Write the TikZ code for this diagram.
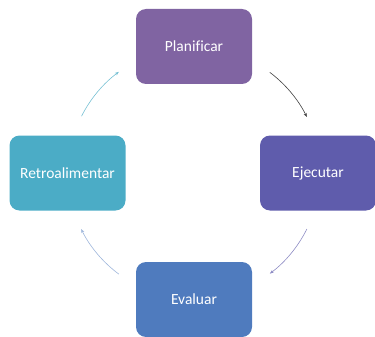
\documentclass[tikz,border=0pt]{standalone}
\usepackage{fontspec}
\setmainfont{Carlito}[Ligatures=NoCommon]
\usetikzlibrary{arrows.meta}
\definecolor{cPlan}{HTML}{8064A2}
\definecolor{cEjec}{HTML}{5F5CAC}
\definecolor{cEval}{HTML}{4F7BBE}
\definecolor{cRetro}{HTML}{4BACC6}
\begin{document}
\begin{tikzpicture}[x=1pt, y=-1pt,
  paso/.style={rectangle, rounded corners=10pt, minimum width=116pt, minimum height=75pt,
    inner sep=0pt, text=white, font=\fontsize{15.5}{18}\selectfont},
  flecha/.style={line width=0.6pt, -{Stealth[length=4pt, width=3pt]}}]
\useasboundingbox (0,0) rectangle (375,337);
\node[paso, fill=cPlan] (plan) at (194,46.5){Planificar};
\node[paso, fill=cEjec] (ejec) at (318,173){Ejecutar};
\node[paso, fill=cEval] (eval) at (194,299.5){Evaluar};
\node[paso, fill=cRetro] (retro) at (67.5,173){Retroalimentar};
\coordinate (c0) at (194,173);
\coordinate (a1) at ([shift={(-53:126)}]c0);
\coordinate (a2) at ([shift={(26.4:126)}]c0);
\coordinate (a3) at ([shift={(126.6:126)}]c0);
\coordinate (a4) at ([shift={(206.8:126)}]c0);
\draw[flecha, black!75] (a1) arc[start angle=-53, end angle=-26.4, radius=126];
\draw[flecha, cEjec!70] (a2) arc[start angle=26.4, end angle=53, radius=126];
\draw[flecha, cEval!55] (a3) arc[start angle=126.6, end angle=153.6, radius=126];
\draw[flecha, cRetro!75] (a4) arc[start angle=206.8, end angle=233.4, radius=126];

\end{tikzpicture}
\end{document}
